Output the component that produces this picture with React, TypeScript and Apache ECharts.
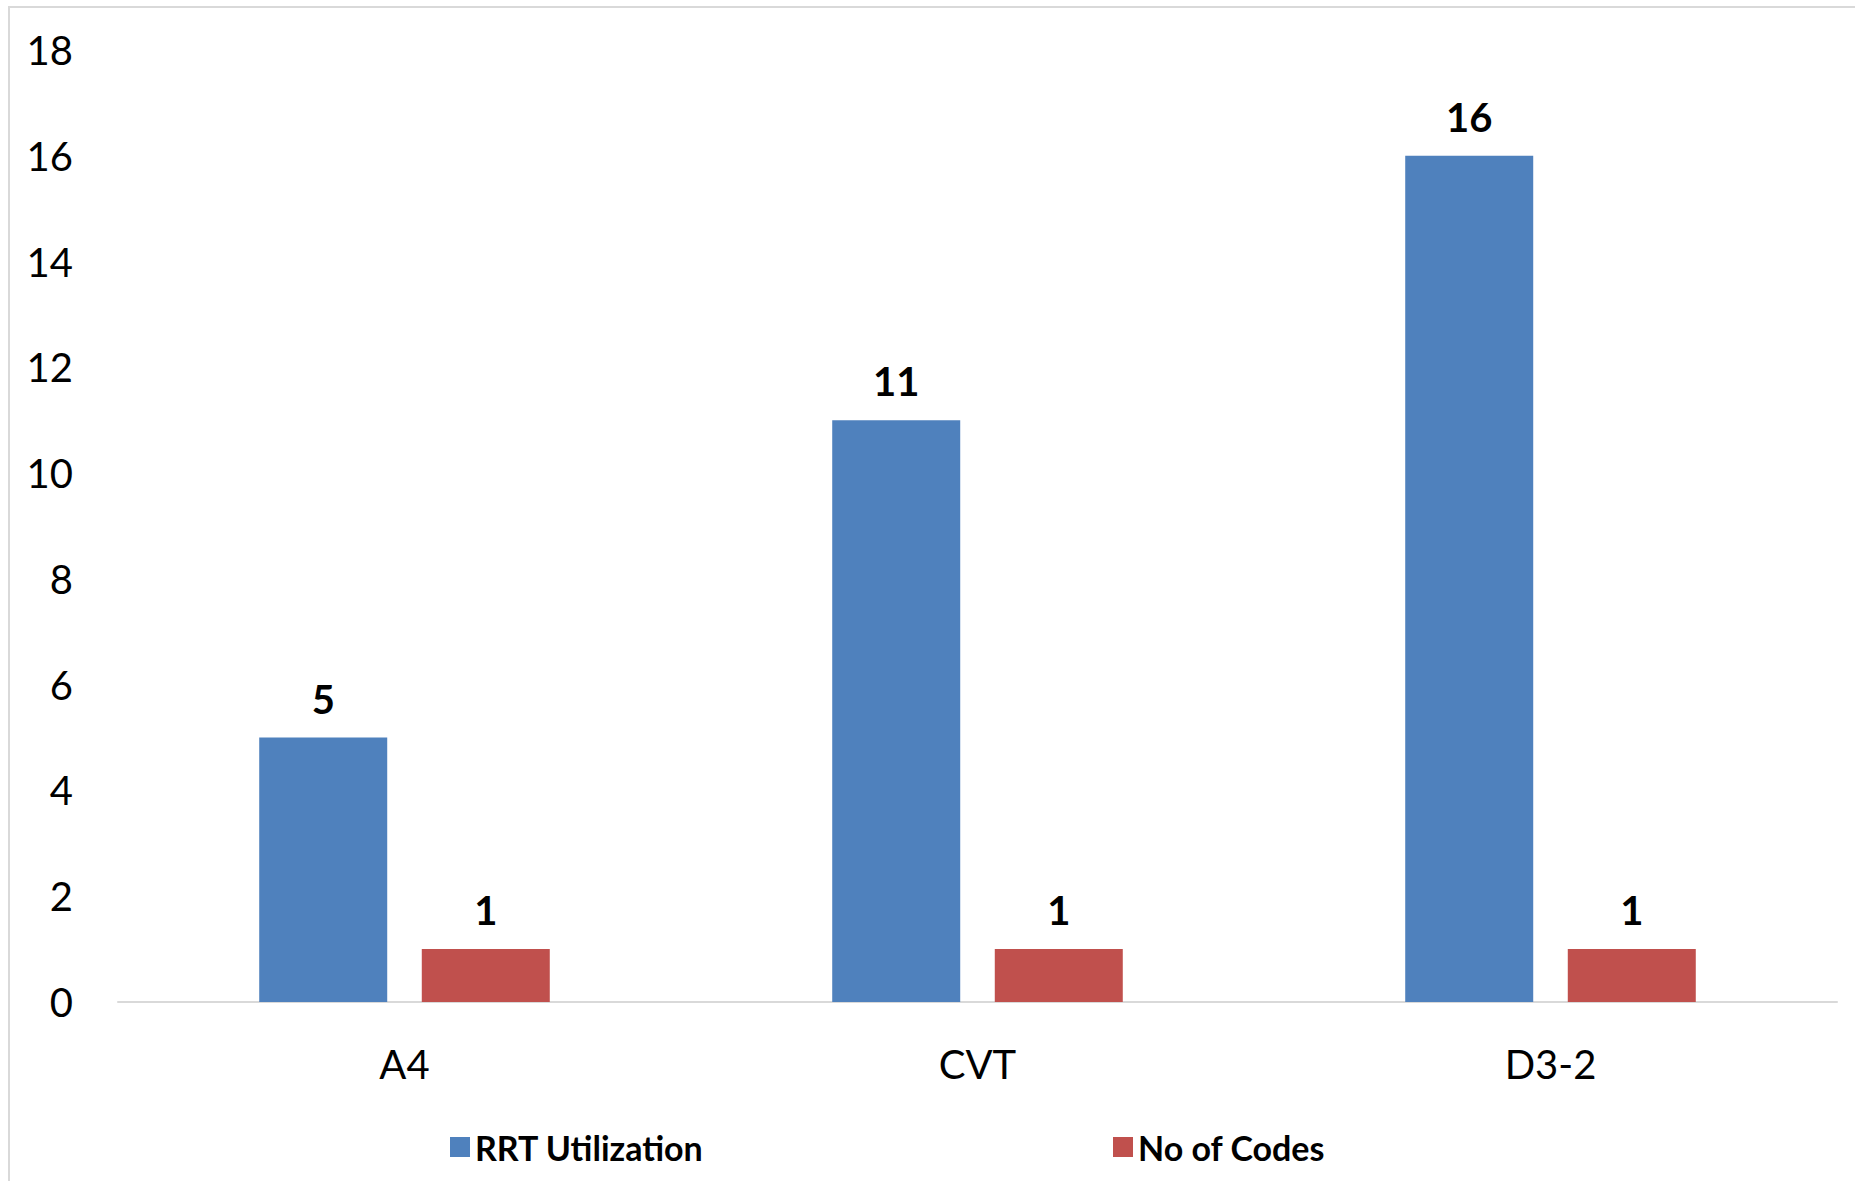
import React, { useEffect, useRef } from "react";
import * as echarts from "echarts";

const categories = ["A4", "CVT", "D3-2"];
const rrtUtilization = [5, 11, 16];
const noOfCodes = [1, 1, 1];
const seriesNames = ["RRT Utilization", "No of Codes"];
const yMin = 0;
const yMax = 18;
const yInterval = 2;

export default function App() {
  const ref = useRef<HTMLDivElement>(null);
  useEffect(() => {
    document.body.style.margin = "0";
    const chart = echarts.init(ref.current!, null, { renderer: "svg" });
    const font = "Lato, 'Open Sans', sans-serif";
    const labelStyle = {
      show: true,
      position: "top" as const,
      distance: 19,
      fontFamily: font,
      fontWeight: "bold" as const,
      fontSize: 40,
      color: "#000",
    };
    const legendText = { fontFamily: font, fontWeight: "bold" as const, fontSize: 34, color: "#000" };
    chart.setOption({
      animation: false,
      backgroundColor: "#fff",
      textStyle: { fontFamily: font },
      graphic: [
        {
          type: "rect",
          shape: { x: 9, y: 7, width: 2000, height: 1400 },
          style: { fill: "none", stroke: "#d9d9d9", lineWidth: 2 },
          silent: true,
        },
      ],
      grid: { left: 118, right: 18, top: 50, bottom: 179 },
      legend: [
        {
          data: [seriesNames[0]],
          left: 445,
          top: 1125,
          itemWidth: 20,
          itemHeight: 20,
          itemGap: 8,
          icon: "rect",
          textStyle: legendText,
        },
        {
          data: [seriesNames[1]],
          left: 1108,
          top: 1125,
          itemWidth: 20,
          itemHeight: 20,
          icon: "rect",
          textStyle: legendText,
        },
      ],
      xAxis: {
        type: "category",
        data: categories,
        axisLine: { show: true, lineStyle: { color: "#d9d9d9", width: 2 } },
        axisTick: { show: false },
        axisLabel: { fontFamily: font, fontSize: 40, color: "#000", margin: 42 },
      },
      yAxis: {
        type: "value",
        min: yMin,
        max: yMax,
        interval: yInterval,
        axisLine: { show: false },
        axisTick: { show: false },
        splitLine: { show: false },
        axisLabel: { fontFamily: font, fontSize: 40, color: "#000", margin: 45 },
      },
      series: [
        {
          name: seriesNames[0],
          type: "bar",
          data: rrtUtilization,
          barWidth: 128,
          barGap: "27%",
          itemStyle: { color: "#4F81BD" },
          label: labelStyle,
        },
        {
          name: seriesNames[1],
          type: "bar",
          data: noOfCodes,
          barWidth: 128,
          barGap: "27%",
          itemStyle: { color: "#C0504D" },
          label: labelStyle,
        },
      ],
    });
    return () => chart.dispose();
  }, []);
  return (
    <div
      ref={ref}
      style={{ position: "absolute", left: 0, top: 0, width: 1855, height: 1181 }}
    />
  );
}
